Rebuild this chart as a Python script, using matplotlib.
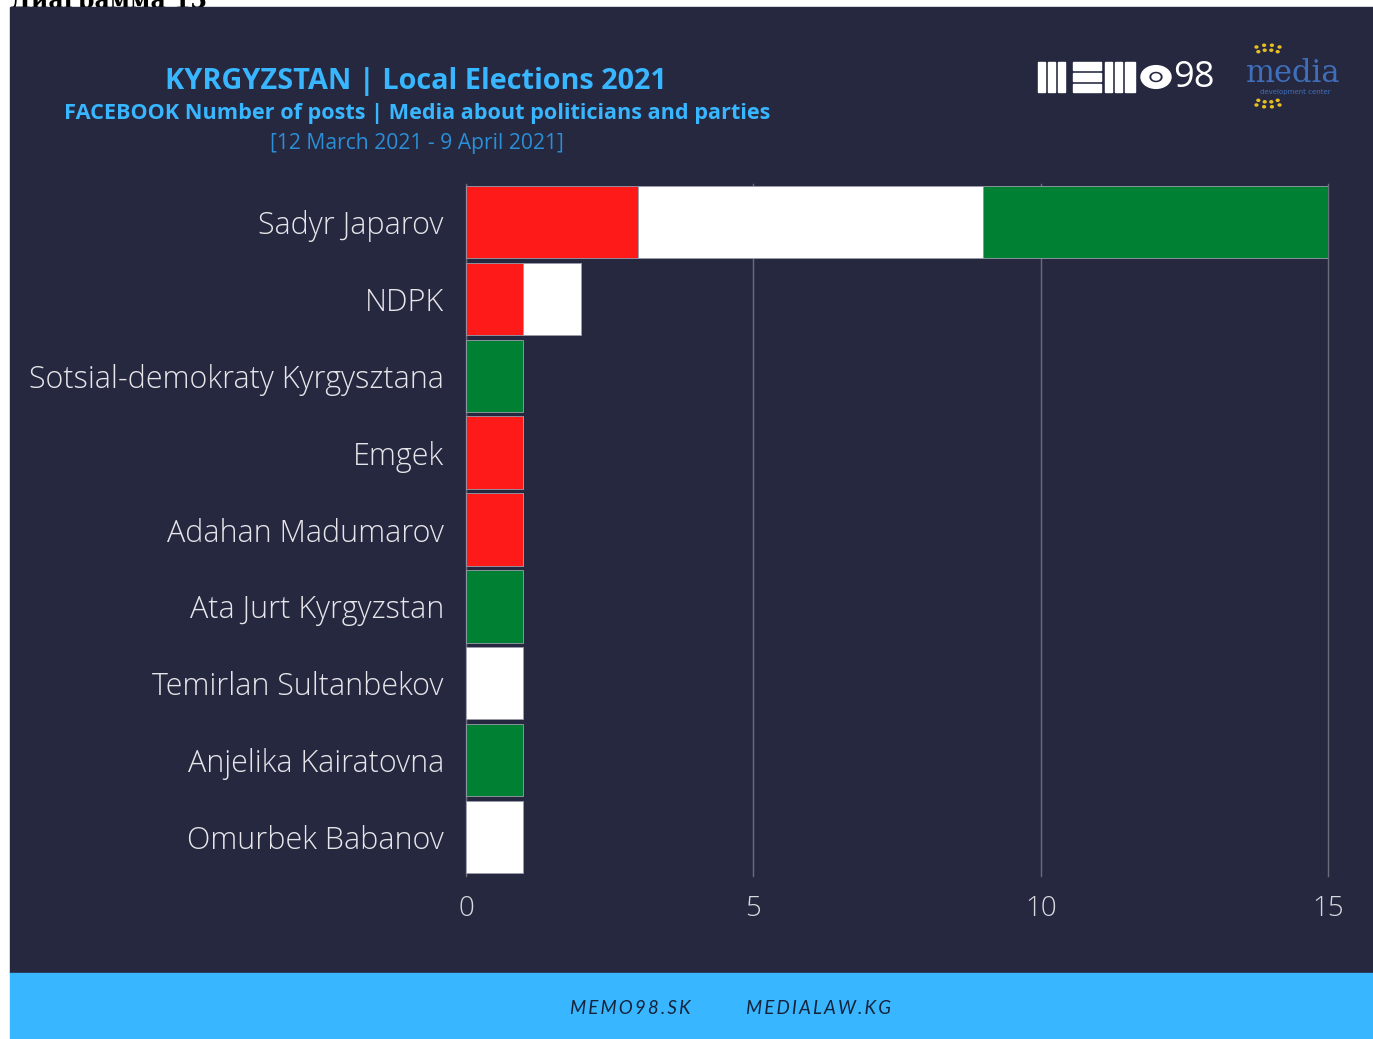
import matplotlib
matplotlib.use('Agg')
import matplotlib.pyplot as plt
from matplotlib.patches import Rectangle, Circle
import numpy as np

# data
names = ['Sadyr Japarov', 'NDPK', 'Sotsial-demokraty Kyrgysztana', 'Emgek',
         'Adahan Madumarov', 'Ata Jurt Kyrgyzstan', 'Temirlan Sultanbekov',
         'Anjelika Kairatovna', 'Omurbek Babanov']
negative = [3, 1, 0, 1, 1, 0, 0, 0, 0]
neutral = [6, 1, 0, 0, 0, 0, 1, 0, 1]
positive = [6, 0, 1, 0, 0, 1, 0, 1, 0]
xticks = [0, 5, 10, 15]

bg = '#262840'
footer = '#38B6FF'
red = '#FF1A1A'
white = '#FFFFFF'
green = '#008033'

W, H = 1373, 1039
fig = plt.figure(figsize=(W / 100, H / 100), dpi=100)
fig.patch.set_facecolor('white')

# panel + footer
fig.patches.append(Rectangle((10 / W, 1 - 973 / H), 1 - 10 / W, (973 - 7) / H,
                             transform=fig.transFigure, color=bg, zorder=-10))
fig.patches.append(Rectangle((10 / W, 0), 1 - 10 / W, (1039 - 973) / H,
                             transform=fig.transFigure, color=footer, zorder=-10))

# cut-off heading on top
fig.text(10 / W, 1 - 1 / H, 'Диаграмма 13', family='DejaVu Serif', weight='bold',
         fontsize=17, color='black', va='center', ha='left', zorder=-20)

ax = fig.add_axes([466 / W, 1 - 875.5 / H, (1328 - 466) / W, 692 / H])
ax.set_facecolor('none')
y = np.arange(len(names))
neg = np.array(negative)
neu = np.array(neutral)
pos = np.array(positive)
kw = dict(height=0.94, edgecolor='#9a9caa', linewidth=0.6, zorder=3)
ax.barh(y, neg, color=red, **kw)
ax.barh(y, neu, left=neg, color=white, **kw)
ax.barh(y, pos, left=neg + neu, color=green, **kw)

ax.set_xlim(0, 15)
ax.set_ylim(len(names) - 0.5, -0.5)
ax.set_xticks(xticks)
ax.set_xticklabels([str(t) for t in xticks])
ax.set_yticks(y)
ax.set_yticklabels(names)
ax.tick_params(axis='y', length=0, pad=16, labelsize=22, labelcolor='#e6e6ea')
ax.tick_params(axis='x', length=0, pad=14, labelsize=20, labelcolor='#d8d8de')
for lab in ax.get_yticklabels() + ax.get_xticklabels():
    lab.set_family('Open Sans')
    lab.set_weight('light')
ax.grid(axis='x', color='#6a6c7c', linewidth=1, zorder=0)
for gl in ax.get_xgridlines():
    gl.set_clip_on(False)
ax.set_axisbelow(True)
for s in ax.spines.values():
    s.set_visible(False)
ax.axvline(0, color='#6a6c7c', linewidth=1, zorder=1)

# titles
blue = '#38B6FF'
fig.text(416 / W, 1 - 81 / H, 'KYRGYZSTAN | Local Elections 2021', family='Open Sans',
         weight='bold', fontsize=20.8, color=blue, ha='center', va='center')
fig.text(417 / W, 1 - 114 / H, 'FACEBOOK Number of posts | Media about politicians and parties',
         family='Open Sans', weight='bold', fontsize=15.6, color=blue, ha='center', va='center')
fig.text(417 / W, 1 - 144 / H, '[12 March 2021 - 9 April 2021]', family='Open Sans',
         fontsize=15.2, color='#2a8fd6', ha='center', va='center')

# MEMO98 logo
for x0, w in [(1038, 7), (1048, 7), (1058, 7), (1105, 7), (1115, 7), (1125, 10)]:
    fig.patches.append(Rectangle((x0 / W, 1 - 92 / H), w / W, 30 / H,
                                 transform=fig.transFigure, color='white'))
for yy in [62, 73, 84]:
    fig.patches.append(Rectangle((1073 / W, 1 - (yy + 8) / H), 28 / W, 8 / H,
                                 transform=fig.transFigure, color='white'))
fig.patches.append(Circle((1156 / W, 1 - 77 / H), 15 / W, transform=fig.transFigure,
                          color='white'))
fig.patches.append(Circle((1156 / W, 1 - 77 / H), 6 / W, transform=fig.transFigure,
                          color=bg))
fig.patches.append(Circle((1156 / W, 1 - 77 / H), 4 / W, transform=fig.transFigure,
                          color='white'))
fig.text(1194 / W, 1 - 78 / H, '98', family='Open Sans', fontsize=26, color='white',
         ha='center', va='center')

# media development center logo
fig.text(1293 / W, 1 - 74 / H, 'media', family='DejaVu Serif', fontsize=22,
         color='#3f6fba', ha='center', va='center')
fig.text(1295 / W, 1 - 92 / H, 'development center', family='DejaVu Sans', fontsize=5,
         color='#3f6fba', ha='center', va='center')
ang = np.linspace(0, 2 * np.pi, 26, endpoint=False)
for r in (26, 31):
    fig.patches.extend([Circle(((1268 + r * 1.05 * np.cos(a)) / W,
                                1 - (76 + r * np.sin(a)) / H), 1.4 / W,
                               transform=fig.transFigure, color='#e8c020')
                        for a in ang if abs(np.cos(a)) < 0.55])

# footer text
fig.text(630 / W, 1 - 1008 / H, '\u2009'.join('MEMO98.SK'), family=['Lato', 'DejaVu Sans'],
         style='italic', fontsize=13.5, color='#15233a', ha='center', va='center')
fig.text(819 / W, 1 - 1008 / H, '\u2009'.join('MEDIALAW.KG'), family=['Lato', 'DejaVu Sans'],
         style='italic', fontsize=13.5, color='#15233a', ha='center', va='center')

fig.savefig('out.png', dpi=100, facecolor=fig.get_facecolor())
